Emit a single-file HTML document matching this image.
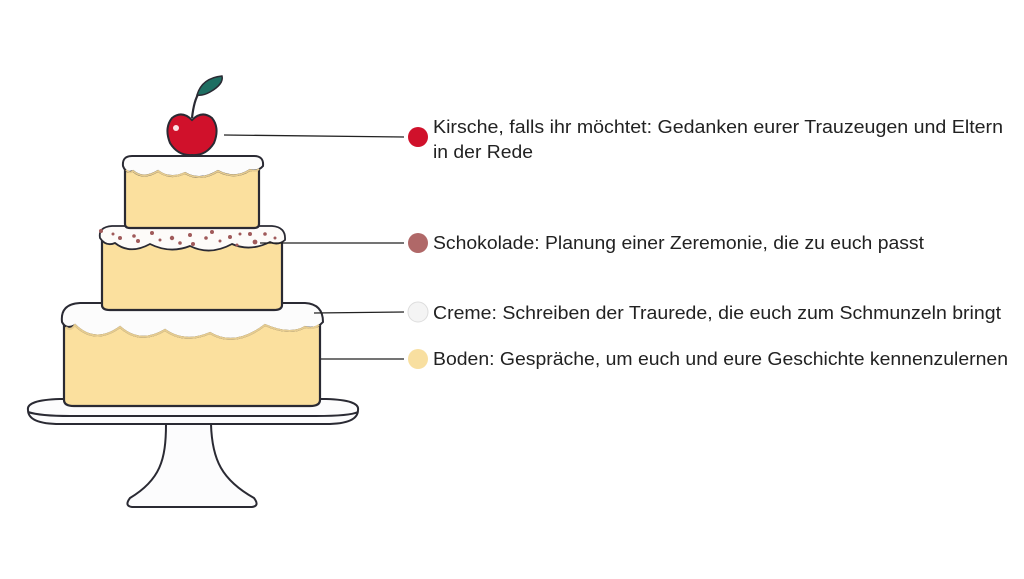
<!DOCTYPE html>
<html><head><meta charset="utf-8"><style>
html,body{margin:0;padding:0;background:#fff;}
svg{display:block;}
text{font-family:"Liberation Sans",sans-serif;font-size:18px;fill:#222;}
</style></head><body>
<svg width="1024" height="579" viewBox="0 0 1024 579" xmlns="http://www.w3.org/2000/svg">
<rect width="1024" height="579" fill="#fff"/>
<!-- stand -->
<path d="M166,424 C166,460 160,480 130,498 Q124,506 132,507 L252,507 Q260,506 254,498 C222,480 212,460 211,424 Z" fill="#fcfcfd" stroke="#2a2a33" stroke-width="2"/>
<path d="M28,410 Q26,400 60,399 L326,399 Q360,400 358,410 Q358,424 326,424 L60,424 Q28,424 28,410 Z" fill="#fcfcfd" stroke="#2a2a33" stroke-width="2"/>
<path d="M28,412 Q40,416 70,416 L316,416 Q350,416 358,412" fill="none" stroke="#2a2a33" stroke-width="2"/>
<!-- bottom tier -->
<path d="M64,320 L64,400 Q64,406 74,406 L310,406 Q320,406 320,400 L320,320 Z" fill="#fbe09e" stroke="#2a2a33" stroke-width="2.2"/>
<path d="M62,322 Q60,304 80,303 L305,303 Q323,304 323,322 Q316,330 305,327 Q290,336 265,325 Q235,348 210,333 Q185,344 165,330 Q140,345 120,327 Q95,345 75,325 Q66,330 62,322 Z" fill="#fcfcfc" stroke="#2a2a33" stroke-width="2"/>
<path d="M66,327 Q70,332 75,325 Q95,345 120,327 Q140,345 165,330 Q185,344 210,333 Q235,348 265,325 Q290,336 305,327 Q312,330 319,325" fill="none" stroke="#e6cc90" stroke-width="2"/>
<!-- middle tier -->
<path d="M102,240 L102,305 Q102,310 110,310 L274,310 Q282,310 282,305 L282,240 Z" fill="#fbe09e" stroke="#2a2a33" stroke-width="2.2"/>
<path d="M100,238 Q98,227 112,226 L272,226 Q286,227 285,240 Q278,246 270,242 Q250,252 232,244 Q210,256 190,246 Q170,254 150,244 Q130,255 115,243 Q106,247 100,238 Z" fill="#fdfbf9" stroke="#2a2a33" stroke-width="1.8"/>
<g fill="#a05a5a">
<circle cx="101" cy="231" r="2"/><circle cx="113" cy="234" r="1.5"/><circle cx="120" cy="238" r="2"/><circle cx="134" cy="236" r="1.8"/><circle cx="138" cy="241" r="2"/><circle cx="152" cy="233" r="2"/><circle cx="160" cy="240" r="1.5"/><circle cx="172" cy="238" r="2.2"/><circle cx="180" cy="243" r="1.8"/><circle cx="190" cy="235" r="2"/><circle cx="193" cy="244" r="2"/><circle cx="206" cy="238" r="1.8"/><circle cx="212" cy="232" r="2"/><circle cx="220" cy="241" r="1.5"/><circle cx="230" cy="237" r="2"/><circle cx="240" cy="234" r="1.5"/><circle cx="250" cy="234" r="2"/><circle cx="255" cy="242" r="2.4"/><circle cx="265" cy="234" r="1.8"/><circle cx="275" cy="238" r="1.5"/><circle cx="237" cy="245" r="1.5"/>
</g>
<!-- top tier -->
<path d="M125,168 L125,224 Q125,228 130,228 L254,228 Q259,228 259,224 L259,168 Z" fill="#fbe09e" stroke="#2a2a33" stroke-width="2.2"/>
<path d="M123,166 Q122,156 132,156 L254,156 Q264,156 263,166 Q258,172 250,170 Q235,180 218,171 Q200,182 185,173 Q170,180 158,171 Q143,180 133,171 Q126,174 123,166 Z" fill="#fcfcfc" stroke="#2a2a33" stroke-width="2"/>
<path d="M126,170 Q130,174 133,171 Q143,180 158,171 Q170,180 185,173 Q200,182 218,171 Q235,180 250,170 Q256,172 259,169" fill="none" stroke="#e6cc90" stroke-width="1.8"/>
<!-- cherry -->
<path d="M192,118 Q194,100 199,93" fill="none" stroke="#2a2a33" stroke-width="2.2"/>
<path d="M197,95 Q202,78 222,76 Q224,84 210,92 Q203,96 197,95 Z" fill="#1e6e62" stroke="#2a2a33" stroke-width="1.5"/>
<path d="M192,120 Q182,110 172,118 Q164,128 170,143 Q178,156 192,155 Q206,156 214,143 Q220,128 212,118 Q202,110 192,120 Z" fill="#d0112b" stroke="#2a2a33" stroke-width="2"/>
<circle cx="176" cy="128" r="3" fill="#fbe0e4"/>
<!-- connectors -->
<g stroke="#222" stroke-width="1.3">
<line x1="224" y1="135" x2="404" y2="137"/>
<line x1="260" y1="243" x2="404" y2="243"/>
<line x1="314" y1="313" x2="404" y2="312"/>
<line x1="321" y1="359" x2="404" y2="359"/>
</g>
<circle cx="418" cy="137" r="10" fill="#d0112b"/>
<circle cx="418" cy="243" r="10" fill="#b06868"/>
<circle cx="418" cy="312" r="10" fill="#f4f4f4" stroke="#ddd" stroke-width="1"/>
<circle cx="418" cy="359" r="10" fill="#f8dfa0"/>
<text x="433" y="133" textLength="570" lengthAdjust="spacingAndGlyphs">Kirsche, falls ihr möchtet: Gedanken eurer Trauzeugen und Eltern</text>
<text x="433" y="158" textLength="100" lengthAdjust="spacingAndGlyphs">in der Rede</text>
<text x="433" y="249" textLength="491" lengthAdjust="spacingAndGlyphs">Schokolade: Planung einer Zeremonie, die zu euch passt</text>
<text x="433" y="319" textLength="568" lengthAdjust="spacingAndGlyphs">Creme: Schreiben der Traurede, die euch zum Schmunzeln bringt</text>
<text x="433" y="365" textLength="575" lengthAdjust="spacingAndGlyphs">Boden: Gespräche, um euch und eure Geschichte kennenzulernen</text>
</svg>
</body></html>
